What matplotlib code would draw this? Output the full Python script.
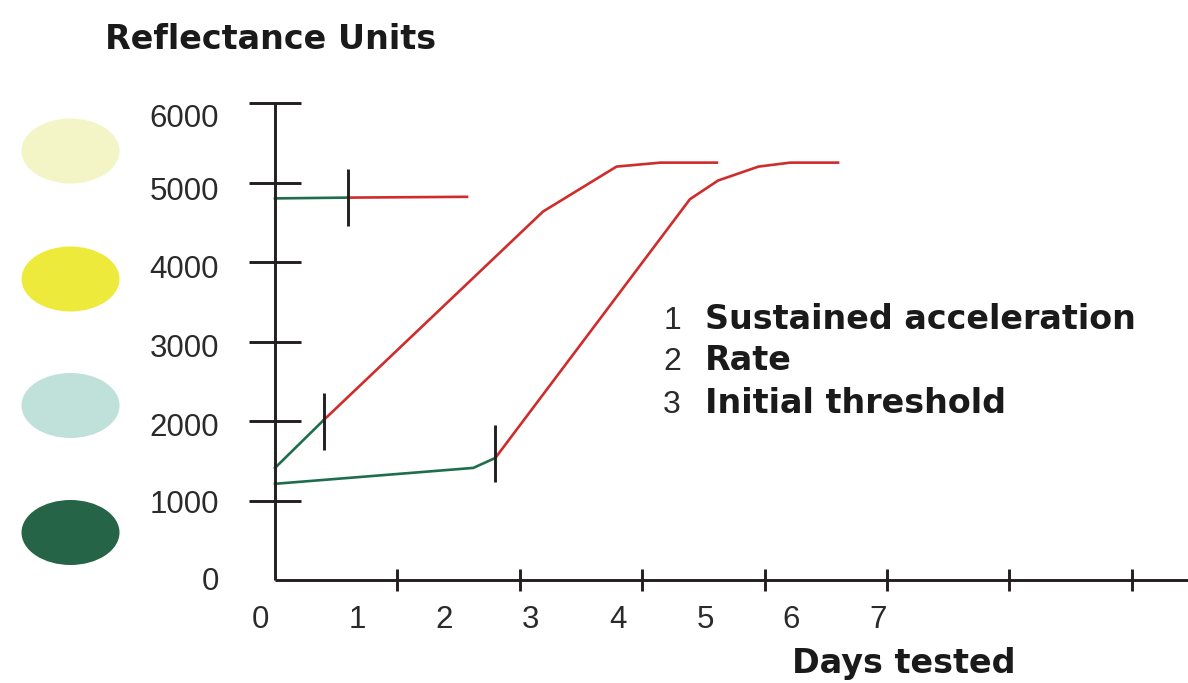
import matplotlib
matplotlib.use("Agg")
import matplotlib.pyplot as plt
from matplotlib.patches import Ellipse

# ---------------- data ----------------
# x in axis-tick units (one unit = distance between two x tick marks)
curve1_green_x = [0.0, 0.596]
curve1_green_y = [4800, 4810]
curve1_red_x = [0.596, 1.569]
curve1_red_y = [4810, 4820]

curve2_green_x = [0.0, 0.40]
curve2_green_y = [1410, 2015]
curve2_red_x = [0.40, 2.19, 2.79, 3.15, 3.61]
curve2_red_y = [2015, 4635, 5200, 5250, 5250]

curve3_green_x = [0.0, 1.62, 1.80]
curve3_green_y = [1210, 1410, 1535]
curve3_red_x = [1.80, 3.39, 3.62, 3.95, 4.21, 4.60]
curve3_red_y = [1535, 4790, 5025, 5200, 5250, 5250]

marker_x = [0.596, 0.40, 1.80]
marker_lo = [4450, 1635, 1235]
marker_hi = [5165, 2355, 1950]

y_ticks = [1000, 2000, 3000, 4000, 5000, 6000]
x_ticks = [1, 2, 3, 4, 5, 6, 7]
y_tick_labels = ["6000", "5000", "4000", "3000", "2000", "1000", "0"]
x_tick_labels = ["0", "1", "2", "3", "4", "5", "6", "7"]
legend_numbers = ["1", "2", "3"]
legend_labels = ["Sustained acceleration", "Rate", "Initial threshold"]
swatch_colors = ["#f3f5c6", "#eeea3c", "#bfe1d9", "#256447"]

# ---------------- layout (pixels) ----------------
W, H = 1188, 683
y_label_py = [119, 192, 270, 349, 428, 505, 582]
x_label_px = [260, 357, 444, 530, 618, 705, 791, 878]
swatch_py = [151, 279, 405.5, 532.5]
legend_py = [329, 370, 413]

GREEN = "#1e6e4e"
RED = "#cf2c2c"
INK = "#231f20"

fig = plt.figure(figsize=(W / 100, H / 100), dpi=100)
fig.patch.set_facecolor("white")

# pixel overlay for free text and swatches
lay = fig.add_axes([0, 0, 1, 1])
lay.set_xlim(0, W)
lay.set_ylim(H, 0)
lay.axis("off")

# main axes
x0, xr, y0, y6 = 275, 1188, 580, 103
ax = fig.add_axes([x0 / W, (H - y0) / H, (xr - x0) / W, (y0 - y6) / H])
ax.patch.set_visible(False)
ax.set_xlim(0, (xr - x0) / 122.4)
ax.set_ylim(0, 6000)
for s in ["top", "right"]:
    ax.spines[s].set_visible(False)
for s in ["left", "bottom"]:
    ax.spines[s].set_linewidth(2.1)
    ax.spines[s].set_color(INK)
    ax.spines[s].set_capstyle("butt")
ax.set_yticks(y_ticks)
ax.set_xticks(x_ticks)
ax.tick_params(axis="y", direction="inout", length=37, width=2.1, color=INK,
               labelleft=False)
ax.tick_params(axis="x", direction="inout", length=16, width=2.1, color=INK,
               labelbottom=False)

lw = 1.9
ax.plot(curve1_green_x, curve1_green_y, color=GREEN, lw=lw, clip_on=False)
ax.plot(curve1_red_x, curve1_red_y, color=RED, lw=lw, clip_on=False)
ax.plot(curve2_green_x, curve2_green_y, color=GREEN, lw=lw, clip_on=False)
ax.plot(curve2_red_x, curve2_red_y, color=RED, lw=lw, clip_on=False)
ax.plot(curve3_green_x, curve3_green_y, color=GREEN, lw=lw, clip_on=False)
ax.plot(curve3_red_x, curve3_red_y, color=RED, lw=lw, clip_on=False)
ax.vlines(marker_x, marker_lo, marker_hi, color=INK, lw=2.1, zorder=5)

# tick labels
num_font = "Liberation Sans"
for lab, py in zip(y_tick_labels, y_label_py):
    lay.text(219, py, lab, ha="right", va="center", fontsize=22.5,
             family=num_font, color="#2a2a2a")
for lab, px in zip(x_tick_labels, x_label_px):
    lay.text(px, 620, lab, ha="center", va="center", fontsize=22.5,
             family=num_font, color="#2a2a2a")

# swatches
for c, py in zip(swatch_colors, swatch_py):
    lay.add_patch(Ellipse((70.5, py), 98, 65, facecolor=c, edgecolor="none"))

# titles
bold = dict(family="DejaVu Sans", fontweight="bold", fontsize=24, color="#1a1a1a")
lay.text(105, 49, "Reflectance Units", ha="left", va="baseline", **bold)
lay.text(792, 673, "Days tested", ha="left", va="baseline", **bold)

# legend
for n, lab, py in zip(legend_numbers, legend_labels, legend_py):
    lay.text(672, py, n, ha="center", va="baseline", fontsize=23,
             family=num_font, color="#2a2a2a")
    lay.text(705, py, lab, ha="left", va="baseline", **bold)

fig.savefig("out.png", dpi=100)
